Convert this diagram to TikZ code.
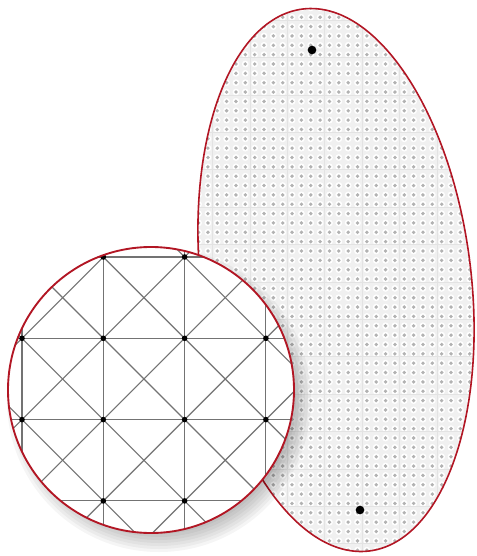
\documentclass[tikz,border=0pt]{standalone}
\usepackage{tikz}

\definecolor{rimred}{RGB}{178,22,36}

\begin{document}
\begin{tikzpicture}[
    x=0.75pt, y=-0.75pt,
    rim/.style={draw=rimred, line width=1.4pt},
    fineline/.style={gray!22, line width=0.4pt},
    gridline/.style={black!55, line width=0.85pt},
    bigdot/.style={fill=black},
    halo/.style={fill=white},
    smalldot/.style={fill=gray!60}
    ]

    \useasboundingbox (0,0) rectangle (476,556);

    % Centres
    \coordinate (E) at (336,280);
    \coordinate (C) at (151,390);

    % Ellipse with its dot screen
    \begin{scope}
        \clip[rotate around={7:(E)}] (E) ellipse [x radius=135, y radius=273];
        \fill[gray!12] (190,0) rectangle (476,556);
        \foreach \i in {-8,...,22}
            \foreach \j in {-7,...,53} {
                \fill[halo] ({264+9.35*\i},{64+9.35*\j}) circle (3.4);
                \fill[smalldot] ({264+9.35*\i},{64+9.35*\j}) circle (1.9);
            }
        \foreach \k in {-4,...,3}
            \draw[fineline] ({362+37.4*\k},0) -- ({362+37.4*\k},556);
        \foreach \k in {-5,...,9}
            \draw[fineline] (190,{207+37.4*\k}) -- (476,{207+37.4*\k});
    \end{scope}
    \draw[rim, line width=1.2pt, rotate around={7:(E)}] (E) ellipse [x radius=135, y radius=273];
    \node[bigdot, circle, inner sep=0pt, minimum size=6.5] (top) at (312,50) {};
    \node[bigdot, circle, inner sep=0pt, minimum size=6.5] (bottom) at (360,510) {};

    % Shadow of the lens
    \foreach \r in {128,131,...,154}
        \fill[black, opacity=0.04] ([shift={(8,10)}]C) circle (\r);

    % Lens
    \begin{scope}
        \clip (C) circle (143);
        \fill[white] (C) circle (143);
        \foreach \k in {-1,...,4} {
            \draw[gridline] ({22+81.3*\k},230) -- ({22+81.3*\k},550);
            \draw[gridline] (0,{257+81.3*\k}) -- (300,{257+81.3*\k});
        }
        \foreach \m in {-4,...,8} {
            \draw[gridline] ({22+81.3*\m-320},-63) -- ({22+81.3*\m+320},577);
            \draw[gridline] ({22+81.3*\m-320},577) -- ({22+81.3*\m+320},-63);
        }
        \foreach \a in {-1,...,4}
            \foreach \b in {-1,...,4}
                \fill[black] ({22+81.3*\a},{257+81.3*\b}) circle (2.8);
    \end{scope}
    \draw[rim] (C) circle (143);

\end{tikzpicture}
\end{document}
